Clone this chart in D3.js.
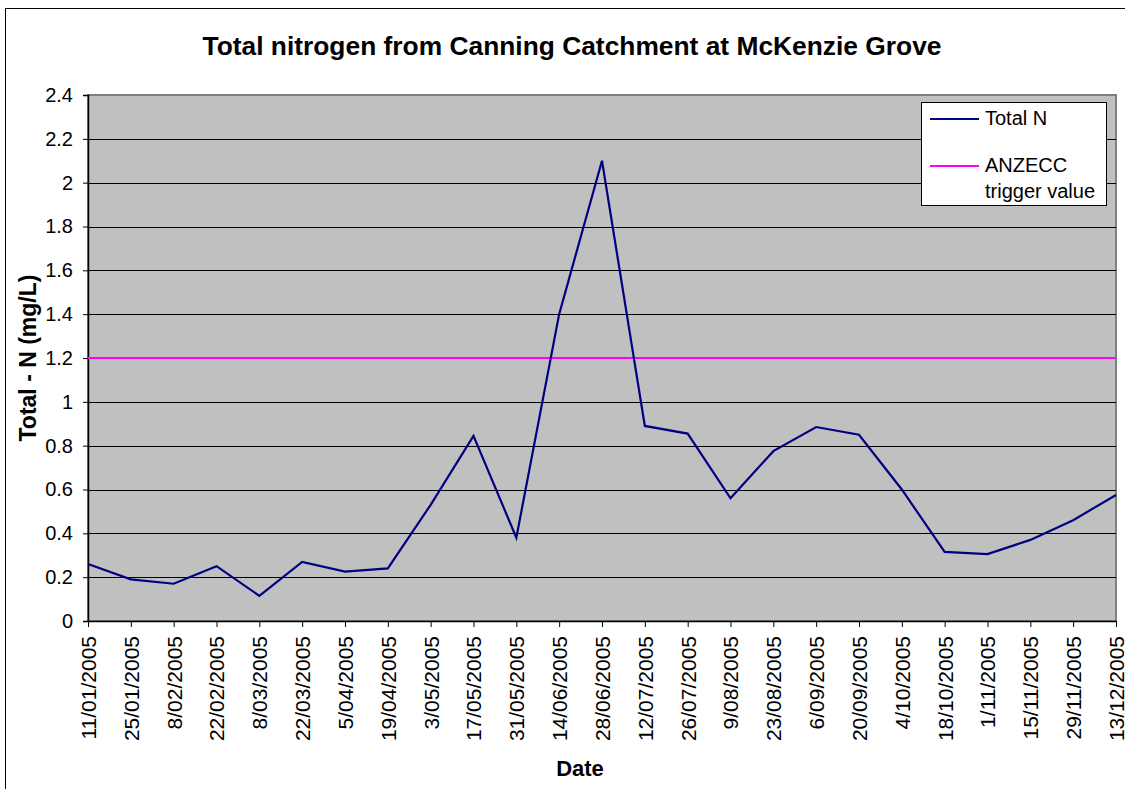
<!DOCTYPE html>
<html>
<head>
<meta charset="utf-8">
<script src="https://cdn.jsdelivr.net/npm/d3@7"></script>
<style>
  body { margin: 0; background: #fff; }
  svg { display: block; font-family: "Liberation Sans", Arial, sans-serif; }
</style>
</head>
<body>
<svg id="chart" width="1125" height="789"></svg>
<script>
// sampling dates (category axis)
const dates = [
  '11/01/2005', '25/01/2005', '8/02/2005', '22/02/2005', '8/03/2005',
  '22/03/2005', '5/04/2005', '19/04/2005', '3/05/2005', '17/05/2005',
  '31/05/2005', '14/06/2005', '28/06/2005', '12/07/2005', '26/07/2005',
  '9/08/2005', '23/08/2005', '6/09/2005', '20/09/2005', '4/10/2005',
  '18/10/2005', '1/11/2005', '15/11/2005', '29/11/2005', '13/12/2005'
];
// total N in mg/L
const totalN = [
  0.26, 0.19, 0.17, 0.25, 0.115,
  0.27, 0.225, 0.24, 0.53, 0.845,
  0.38, 1.40, 2.10, 0.89, 0.855,
  0.56, 0.775, 0.885, 0.85, 0.60,
  0.315, 0.305, 0.37, 0.46, 0.575
];
const triggerValue = 1.2;
const yTicks = [0, 0.2, 0.4, 0.6, 0.8, 1, 1.2, 1.4, 1.6, 1.8, 2, 2.2, 2.4];
const legendLabels = [['Total N'], ['ANZECC', 'trigger value']];

const svg = d3.select('#chart');
const plot = { left: 88, right: 1116, top: 95, bottom: 621 };

// outer chart border
svg.append('rect')
  .attr('x', 5.5).attr('y', 8.5)
  .attr('width', 1140).attr('height', 800)
  .attr('fill', '#fff').attr('stroke', '#000').attr('stroke-width', 1);

const x = d3.scalePoint().domain(dates).range([plot.left, plot.right]);
const y = d3.scaleLinear().domain([0, 2.4]).range([plot.bottom, plot.top]);

// plot background
svg.append('rect')
  .attr('x', plot.left).attr('y', plot.top)
  .attr('width', plot.right - plot.left).attr('height', plot.bottom - plot.top)
  .attr('fill', '#c0c0c0').attr('stroke', '#808080').attr('stroke-width', 2);

// gridlines
svg.append('g')
  .selectAll('line')
  .data(yTicks.filter(d => d > 0 && d < 2.4))
  .enter()
  .append('line')
  .attr('x1', plot.left).attr('x2', plot.right)
  .attr('y1', d => Math.round(y(d)) + 0.5).attr('y2', d => Math.round(y(d)) + 0.5)
  .attr('stroke', '#000').attr('stroke-width', 1);

// y axis
const yAxis = svg.append('g')
  .attr('transform', `translate(${plot.left},0)`)
  .call(d3.axisLeft(y).tickValues(yTicks).tickSize(5).tickPadding(10).tickFormat(d3.format('')));
yAxis.select('.domain').attr('stroke', '#000').attr('stroke-width', 1.5);
yAxis.selectAll('.tick line').attr('stroke', '#000');
yAxis.selectAll('text')
  .attr('font-size', 20).attr('fill', '#000')
  .attr('font-family', '"Liberation Sans", Arial, sans-serif');

// x axis
const xAxis = svg.append('g')
  .attr('transform', `translate(0,${plot.bottom})`)
  .call(d3.axisBottom(x).tickSize(6).tickSizeOuter(0));
xAxis.select('.domain').attr('stroke', '#000').attr('stroke-width', 1.5);
xAxis.selectAll('.tick line').attr('stroke', '#000');
xAxis.selectAll('text')
  .attr('font-size', 21).attr('fill', '#000')
  .attr('font-family', '"Liberation Sans", Arial, sans-serif')
  .attr('text-anchor', 'end')
  .attr('transform', 'rotate(-90)')
  .attr('x', -15).attr('y', 0).attr('dy', '0.35em');

// trigger line
svg.append('line')
  .attr('x1', plot.left).attr('x2', plot.right)
  .attr('y1', y(triggerValue)).attr('y2', y(triggerValue))
  .attr('stroke', '#ff00ff').attr('stroke-width', 2);

// total N line
const line = d3.line()
  .x((d, i) => x(dates[i]))
  .y(d => y(d));
svg.append('path')
  .datum(totalN)
  .attr('d', line)
  .attr('fill', 'none')
  .attr('stroke', '#000080')
  .attr('stroke-width', 2.2)
  .attr('stroke-linejoin', 'miter');

// title
svg.append('text')
  .attr('x', 572).attr('y', 55)
  .attr('text-anchor', 'middle')
  .attr('font-size', 26).attr('font-weight', 'bold')
  .attr('textLength', 739).attr('lengthAdjust', 'spacingAndGlyphs')
  .text('Total nitrogen from Canning Catchment at McKenzie Grove');

// axis titles
svg.append('text')
  .attr('transform', 'translate(36,358) rotate(-90)')
  .attr('text-anchor', 'middle')
  .attr('font-size', 23).attr('font-weight', 'bold')
  .text('Total - N (mg/L)');

svg.append('text')
  .attr('x', 580).attr('y', 776)
  .attr('text-anchor', 'middle')
  .attr('font-size', 22).attr('font-weight', 'bold')
  .text('Date');

// legend
const legend = svg.append('g');
legend.append('rect')
  .attr('x', 921.5).attr('y', 102.5)
  .attr('width', 185).attr('height', 103)
  .attr('fill', '#fff').attr('stroke', '#000').attr('stroke-width', 1);

const legendColors = ['#000080', '#ff00ff'];
const legendY = [119, 166];
legendLabels.forEach((lines, i) => {
  legend.append('line')
    .attr('x1', 930).attr('x2', 979)
    .attr('y1', legendY[i]).attr('y2', legendY[i])
    .attr('stroke', legendColors[i]).attr('stroke-width', 2);
  lines.forEach((t, j) => {
    legend.append('text')
      .attr('x', 985).attr('y', legendY[i] + 6 + j * 26)
      .attr('font-size', 20)
      .text(t);
  });
});
</script>
</body>
</html>
